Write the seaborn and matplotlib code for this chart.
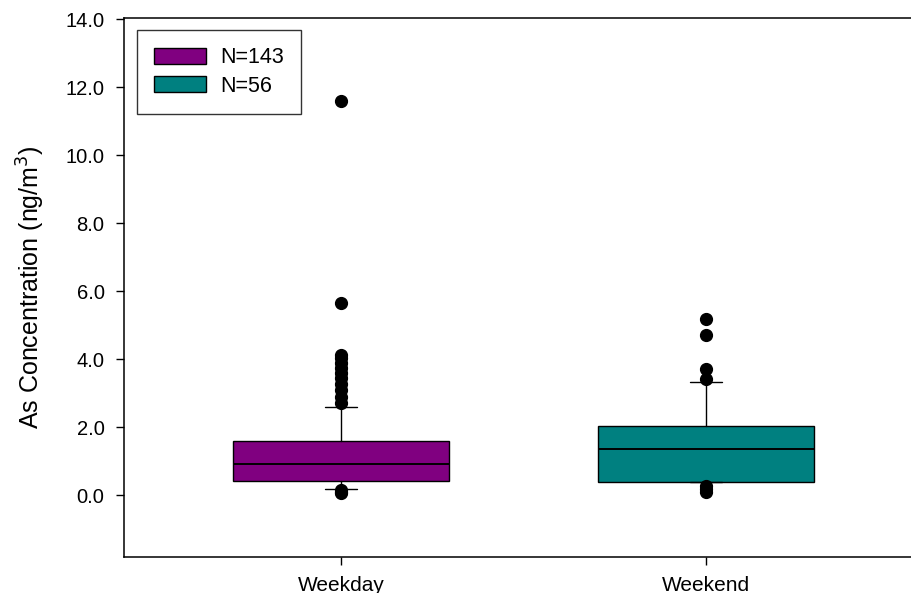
import matplotlib
matplotlib.use("Agg")
import matplotlib.pyplot as plt
from matplotlib.patches import Patch
import seaborn as sns

# Summary statistics per group (ng/m^3)
groups = ["Weekday", "Weekend"]
counts = [143, 56]
colors = ["#800080", "#008080"]
q1 = [0.41, 0.40]
median = [0.91, 1.36]
q3 = [1.59, 2.03]
whisker_low = [0.18, 0.40]
whisker_high = [2.59, 3.33]
outliers_weekday = [11.59, 5.66, 4.12, 4.02, 3.88, 3.74, 3.60, 3.44, 3.26, 3.08, 2.88, 2.72,
                    0.15, 0.10, 0.05]
outliers_weekend = [5.18, 4.72, 3.72, 3.42, 0.28, 0.18, 0.08]
yticks = [0, 2, 4, 6, 8, 10, 12, 14]

sns.set_theme(style="ticks")
plt.rcParams["font.family"] = ["Liberation Sans", "DejaVu Sans"]

fig = plt.figure(figsize=(9.11, 5.93), dpi=100)
ax = fig.add_axes([124 / 911, 1 - 557 / 593, 1 - 124 / 911, (557 - 18) / 593])

stats = []
for i, name in enumerate(groups):
    fl = outliers_weekday if i == 0 else outliers_weekend
    stats.append(dict(label=name, q1=q1[i], med=median[i], q3=q3[i],
                      whislo=whisker_low[i], whishi=whisker_high[i], fliers=fl))

bp = ax.bxp(stats, positions=[0, 1], widths=0.59, patch_artist=True,
            showfliers=True,
            boxprops=dict(edgecolor="black", linewidth=1.0),
            medianprops=dict(color="black", linewidth=1.4),
            whiskerprops=dict(color="black", linewidth=1.0),
            capprops=dict(color="black", linewidth=1.0),
            capwidths=0.09,
            flierprops=dict(marker="o", markerfacecolor="black",
                            markeredgecolor="black", markersize=8.5))
for patch, c in zip(bp["boxes"], colors):
    patch.set_facecolor(c)

ax.set_xlim(-0.5945, 1.5616)
ax.set_ylim(-1.82, 14.03)
ax.set_xticks([0, 1])
ax.set_xticklabels(groups)
ax.set_yticks(yticks)
ax.set_yticklabels([f"{v:.1f}" for v in yticks])
ax.tick_params(axis="both", labelsize=15, length=6, width=1.0, color="black",
               labelcolor="black")
ax.tick_params(axis="y", labelsize=14.5, pad=8)
ax.tick_params(axis="x", pad=8)
ax.set_ylabel("As Concentration (ng/m$^3$)", fontsize=18, labelpad=13, color="black")

for side in ["left", "bottom", "top"]:
    ax.spines[side].set_color("black")
    ax.spines[side].set_linewidth(1.1)
ax.spines["right"].set_visible(False)

handles = [Patch(facecolor=c, edgecolor="black", linewidth=1.0) for c in colors]
leg = ax.legend(handles, [f"N={n}" for n in counts], loc="upper left",
                bbox_to_anchor=(13 / 787, 1 - 12 / 539), fontsize=15.5,
                frameon=True, fancybox=False, edgecolor="black",
                handlelength=2.4, handleheight=0.75, handletextpad=0.65,
                labelspacing=0.35, borderpad=0.8, borderaxespad=0)
leg.get_frame().set_linewidth(1.0)
for t in leg.get_texts():
    t.set_color("black")

fig.savefig("out.png", dpi=100)
